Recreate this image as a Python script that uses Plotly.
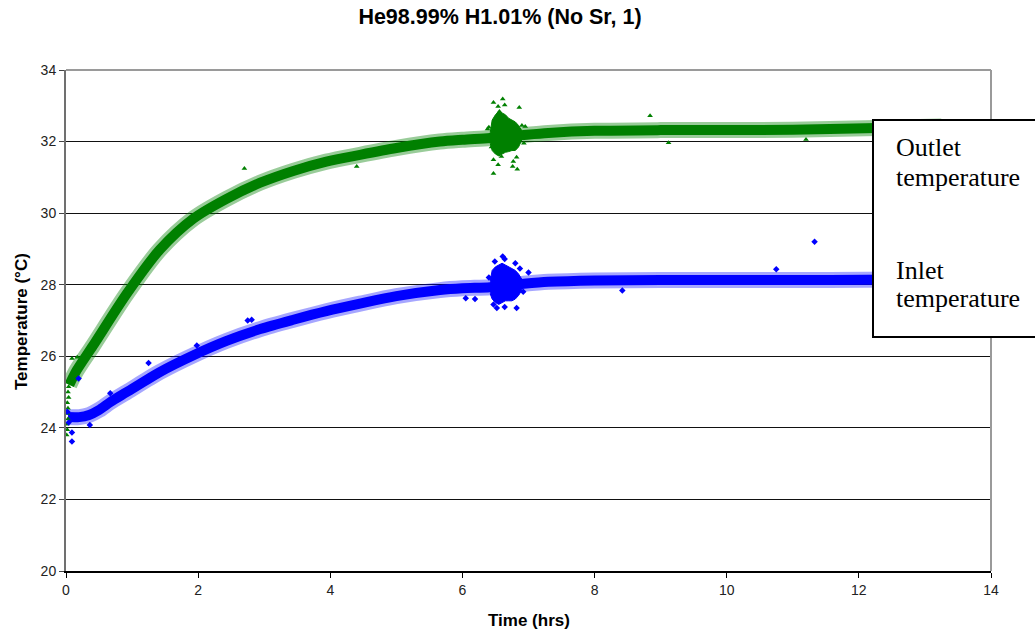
import plotly.graph_objects as go

# ---------------- data ----------------
# Outlet temperature: centre of the dense band
outlet_t = [0.05, 0.16, 0.41, 0.92, 1.42, 1.93, 2.43, 2.94, 3.44, 3.94, 4.45, 5.00,
            5.66, 6.00, 6.42, 6.90, 7.30, 8.00, 9.00, 10.00, 11.00, 12.10, 13.25]
outlet_v = [25.20, 25.60, 26.30, 27.75, 28.98, 29.85, 30.40, 30.85, 31.18, 31.44, 31.63, 31.82,
            32.00, 32.05, 32.10, 32.18, 32.24, 32.30, 32.32, 32.32, 32.33, 32.37, 32.42]

# Inlet temperature: centre of the dense band
inlet_t = [0.03, 0.20, 0.35, 0.50, 0.67, 0.92, 1.42, 1.93, 2.43, 2.94, 3.44, 3.94, 4.45,
           5.00, 5.66, 6.00, 6.42, 6.90, 7.30, 8.00, 9.00, 10.00, 11.00, 12.10, 13.25]
inlet_v = [24.30, 24.30, 24.36, 24.50, 24.72, 25.00, 25.56, 26.03, 26.43, 26.76, 27.02, 27.26, 27.47,
           27.68, 27.85, 27.90, 27.93, 28.02, 28.08, 28.12, 28.13, 28.13, 28.13, 28.14, 28.15]

# Disturbance near 6.5 h: envelope of the dense cloud
burst_t = [6.42, 6.45, 6.50, 6.55, 6.60, 6.65, 6.70, 6.75, 6.80, 6.85, 6.90]
outlet_burst_hi = [32.25, 32.60, 32.75, 32.85, 32.80, 32.75, 32.65, 32.60, 32.55, 32.45, 32.30]
outlet_burst_lo = [31.95, 31.75, 31.65, 31.60, 31.65, 31.70, 31.72, 31.75, 31.75, 31.85, 32.05]
inlet_burst_hi = [28.10, 28.40, 28.50, 28.55, 28.60, 28.55, 28.50, 28.45, 28.40, 28.30, 28.15]
inlet_burst_lo = [27.75, 27.60, 27.50, 27.45, 27.50, 27.55, 27.55, 27.55, 27.60, 27.70, 27.85]

# Scattered individual readings (start-up strip and outliers)
outlet_pts_t = [0.01, 0.02, 0.01, 0.03, 0.02, 0.03, 0.02, 0.04, 0.03, 0.04, 0.09, 0.17,
                2.70, 4.40, 8.84, 9.12, 11.20,
                6.47, 6.61, 6.54, 6.64, 6.86, 6.56, 6.47, 6.47, 6.54, 6.77, 6.76, 6.83, 6.82, 6.59,
                6.40, 6.44, 6.90, 6.93, 6.38, 6.95]
outlet_pts_v = [23.80, 23.95, 24.10, 24.25, 24.40, 24.55, 24.70, 24.85, 25.00, 25.15, 25.94, 25.97,
                31.25, 31.30, 32.72, 31.97, 32.06,
                33.09, 33.19, 32.98, 33.02, 32.95, 32.84, 31.11, 31.49, 31.35, 31.44, 31.30, 31.23, 31.56, 31.58,
                32.40, 31.85, 32.45, 31.95, 32.35, 32.42]

inlet_pts_t = [0.02, 0.04, 0.09, 0.09, 0.19, 0.36, 0.67, 1.25, 1.98, 2.75, 2.81, 8.42, 10.75, 11.33,
               6.61, 6.49, 6.64, 6.80, 7.00, 6.87, 6.52, 6.64, 6.82, 6.47, 6.19, 6.05, 6.40, 6.92]
inlet_pts_v = [24.45, 24.15, 23.87, 23.62, 25.38, 24.08, 24.97, 25.81, 26.30, 27.00, 27.02, 27.84, 28.43, 29.20,
               28.79, 28.65, 28.72, 28.60, 28.34, 28.45, 27.35, 27.38, 27.35, 27.45, 27.60, 27.62, 28.20, 27.80]

title_text = "He98.99% H1.01% (No Sr, 1)"
x_title = "Time (hrs)"
y_title = "Temperature (°C)"
legend_lines = ["Outlet", "temperature", "Inlet", "temperature"]
x_ticks = [0, 2, 4, 6, 8, 10, 12, 14]
y_ticks = [20, 22, 24, 26, 28, 30, 32, 34]

GREEN = "#008000"
BLUE = "#0000FF"
GREEN_HALO = "rgba(0,128,0,0.40)"
BLUE_HALO = "rgba(0,0,255,0.35)"

fig = go.Figure()

# soft fringe of the dense bands
fig.add_trace(go.Scatter(x=outlet_t, y=outlet_v, mode="lines",
                         line=dict(color=GREEN_HALO, width=16, shape="spline", smoothing=0.8),
                         hoverinfo="skip", showlegend=False))
fig.add_trace(go.Scatter(x=inlet_t, y=inlet_v, mode="lines",
                         line=dict(color=BLUE_HALO, width=16, shape="spline", smoothing=0.8),
                         hoverinfo="skip", showlegend=False))
# dense bands
fig.add_trace(go.Scatter(x=outlet_t, y=outlet_v, mode="lines",
                         line=dict(color=GREEN, width=10, shape="spline", smoothing=0.8),
                         hoverinfo="skip", showlegend=False))
fig.add_trace(go.Scatter(x=inlet_t, y=inlet_v, mode="lines",
                         line=dict(color=BLUE, width=10, shape="spline", smoothing=0.8),
                         hoverinfo="skip", showlegend=False))

# disturbance clouds
fig.add_trace(go.Scatter(x=burst_t, y=outlet_burst_lo, mode="lines",
                         line=dict(color=GREEN, width=1), showlegend=False, hoverinfo="skip"))
fig.add_trace(go.Scatter(x=burst_t, y=outlet_burst_hi, mode="lines", fill="tonexty",
                         fillcolor=GREEN, line=dict(color=GREEN, width=1),
                         showlegend=False, hoverinfo="skip"))
fig.add_trace(go.Scatter(x=burst_t, y=inlet_burst_lo, mode="lines",
                         line=dict(color=BLUE, width=1), showlegend=False, hoverinfo="skip"))
fig.add_trace(go.Scatter(x=burst_t, y=inlet_burst_hi, mode="lines", fill="tonexty",
                         fillcolor=BLUE, line=dict(color=BLUE, width=1),
                         showlegend=False, hoverinfo="skip"))

# individual readings
fig.add_trace(go.Scatter(x=outlet_pts_t, y=outlet_pts_v, mode="markers",
                         marker=dict(symbol="triangle-up", size=5, color=GREEN),
                         name="Outlet temperature", showlegend=False))
fig.add_trace(go.Scatter(x=inlet_pts_t, y=inlet_pts_v, mode="markers",
                         marker=dict(symbol="diamond", size=5, color=BLUE),
                         name="Inlet temperature", showlegend=False))

L, R, T, B = 66, 44, 70, 60
W, H = 1035, 631
PW, PH = W - L - R, H - T - B


def px_x(px):
    return (px - L) / PW


def px_y(py):
    return (H - B - py) / PH


shapes = [
    # top and right plot-area border (gray)
    dict(type="line", xref="paper", yref="paper", x0=0, x1=1, y0=1, y1=1,
         line=dict(color="#9a9a9a", width=2), layer="above"),
    dict(type="line", xref="paper", yref="paper", x0=1, x1=1, y0=0, y1=1,
         line=dict(color="#9a9a9a", width=2), layer="above"),
    # legend box
    dict(type="rect", xref="paper", yref="paper",
         x0=px_x(873), x1=px_x(1045), y0=px_y(337), y1=px_y(120),
         line=dict(color="black", width=2), fillcolor="white", layer="above"),
]

annotations = [
    dict(text=x_title, x=px_x(529), y=px_y(620), xref="paper", yref="paper",
         showarrow=False, xanchor="center", yanchor="middle",
         font=dict(family="Liberation Sans, Arial", size=17, color="black", weight="bold")),
    dict(text=y_title, x=px_x(21), y=px_y(322), xref="paper", yref="paper",
         showarrow=False, xanchor="center", yanchor="middle", textangle=-90,
         font=dict(family="Liberation Sans, Arial", size=17, color="black", weight="bold")),
]
for txt, py in zip(legend_lines, [147.7, 177.0, 270.3, 298.7]):
    annotations.append(dict(text=txt, x=px_x(894), y=px_y(py), xref="paper", yref="paper",
                            showarrow=False, xanchor="left", yanchor="middle",
                            font=dict(family="Liberation Serif, Times New Roman", size=26,
                                      color="black")))

fig.update_layout(
    width=W, height=H,
    margin=dict(l=L, r=R, t=T, b=B, pad=0),
    paper_bgcolor="white", plot_bgcolor="white",
    title=dict(text=title_text, x=500 / W, xanchor="center", y=(H - 16.5) / H, yanchor="middle",
               font=dict(family="Liberation Sans, Arial", size=21.5, color="black", weight="bold")),
    shapes=shapes, annotations=annotations,
    showlegend=False,
)
fig.update_xaxes(range=[0, 14], tickvals=x_ticks, ticktext=[str(v) for v in x_ticks],
                 showgrid=False, zeroline=False, showline=True, linecolor="black", linewidth=2,
                 ticks="outside", ticklen=5, tickcolor="black", tickwidth=1,
                 tickfont=dict(family="Liberation Sans, Arial", size=14, color="#222222"))
fig.update_yaxes(range=[20, 34], tickvals=y_ticks, ticktext=[str(v) for v in y_ticks],
                 showgrid=True, gridcolor="#111111", gridwidth=1.3, zeroline=False,
                 showline=True, linecolor="#707070", linewidth=2,
                 ticks="outside", ticklen=5, tickcolor="#444444", tickwidth=1,
                 tickfont=dict(family="Liberation Sans, Arial", size=14, color="#222222"))

fig.write_html("out.html")
